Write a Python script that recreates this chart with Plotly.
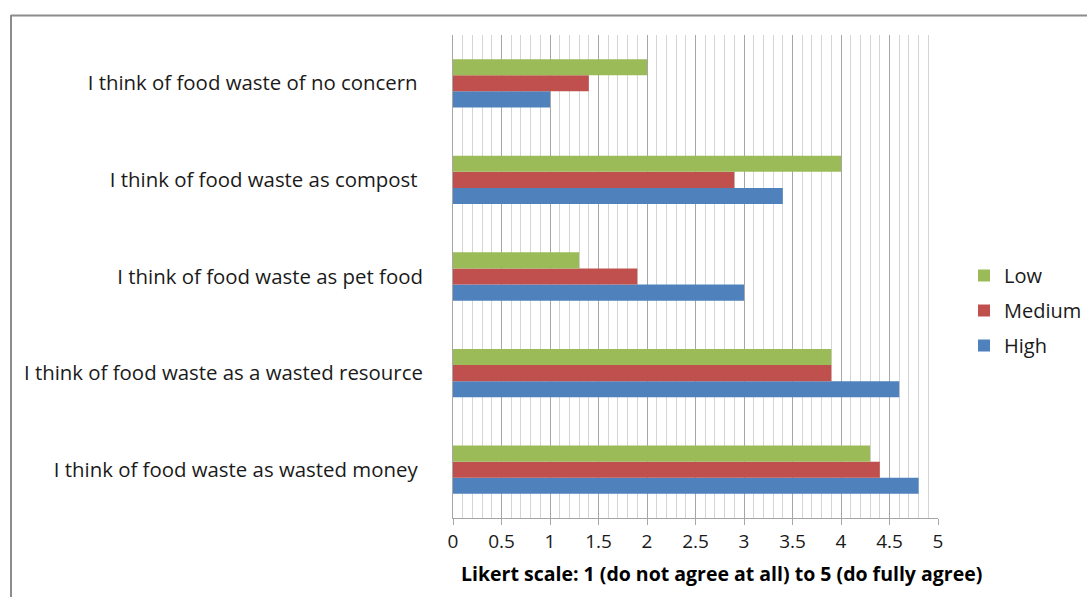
import plotly.graph_objects as go

# Statements (top to bottom) and mean Likert scores per group
statements = [
    "I think of food waste of no concern ",
    "I think of food waste as compost ",
    "I think of food waste as pet food",
    "I think of food waste as a wasted resource",
    "I think of food waste as wasted money ",
]
low = [2.0, 4.0, 1.3, 3.9, 4.3]
medium = [1.4, 2.9, 1.9, 3.9, 4.4]
high = [1.0, 3.4, 3.0, 4.6, 4.8]

x_ticks = [0, 0.5, 1, 1.5, 2, 2.5, 3, 3.5, 4, 4.5, 5]
x_tick_text = ["0", "0.5", "1", "1.5", "2", "2.5", "3", "3.5", "4", "4.5", "5"]

W, H = 1087, 597
L, R, T, B = 453, 149, 35, 79
PW, PH = W - L - R, H - T - B
FONT = "Open Sans, DejaVu Sans, sans-serif"


def px_x(p):
    return (p - L) / PW


def px_y(p):
    return (H - B - p) / PH


fig = go.Figure()
# High is drawn first so it sits at the bottom of each group;
# legendrank lists Low first in the legend
for name, vals, color, rank in [
    ("High", high, "#4F81BD", 3),
    ("Medium", medium, "#C0504D", 2),
    ("Low", low, "#9BBB59", 1),
]:
    fig.add_trace(go.Bar(
        y=statements, x=vals, name=name, orientation="h",
        marker=dict(color=color, line=dict(width=0)),
        legendgroup=name, legendrank=rank,
    ))

fig.update_layout(
    width=W, height=H,
    margin=dict(l=L, r=R, t=T, b=B, autoexpand=False),
    paper_bgcolor="white", plot_bgcolor="white",
    barmode="group", bargap=0.5, bargroupgap=0,
    font=dict(family=FONT, size=20, color="#1a1a1a"),
    showlegend=True,
    legend=dict(
        x=px_x(964), y=px_y(256),
        xanchor="left", yanchor="top",
        traceorder="grouped", tracegroupgap=6,
        font=dict(family=FONT, size=20, color="#1a1a1a"),
        itemwidth=30,
    ),
    xaxis=dict(
        range=[0, 5], tickvals=x_ticks, ticktext=x_tick_text,
        showgrid=True, gridcolor="#a6a6a6", gridwidth=1,
        minor=dict(dtick=0.1, showgrid=True, gridcolor="#d4d4d4", gridwidth=1),
        showline=True, linecolor="#a6a6a6", linewidth=1,
        ticks="outside", ticklen=6, tickcolor="#a6a6a6",
        zeroline=False,
        tickfont=dict(size=19),
    ),
    yaxis=dict(
        categoryorder="array", categoryarray=list(reversed(statements)),
        showgrid=False, showline=True, linecolor="#a6a6a6", linewidth=1,
        ticks="", ticklabelstandoff=25,
        tickfont=dict(size=20.4),
    ),
    annotations=[dict(
        text="<b>Likert scale: 1 (do not agree at all) to 5 (do fully agree)</b>",
        xref="paper", yref="paper",
        x=px_x(721), y=px_y(573),
        xanchor="center", yanchor="middle", showarrow=False,
        font=dict(family=FONT, size=19.5, color="#000000"),
    )],
    shapes=[
        # outer chart frame (top and left edges are visible)
        dict(type="line", xref="paper", yref="paper",
             x0=px_x(11), x1=px_x(W + 5), y0=px_y(15.5), y1=px_y(15.5),
             line=dict(color="#8c8c8c", width=2)),
        dict(type="line", xref="paper", yref="paper",
             x0=px_x(11), x1=px_x(11), y0=px_y(15), y1=px_y(H + 5),
             line=dict(color="#8c8c8c", width=2)),
    ],
)

fig.write_html("out.html")
